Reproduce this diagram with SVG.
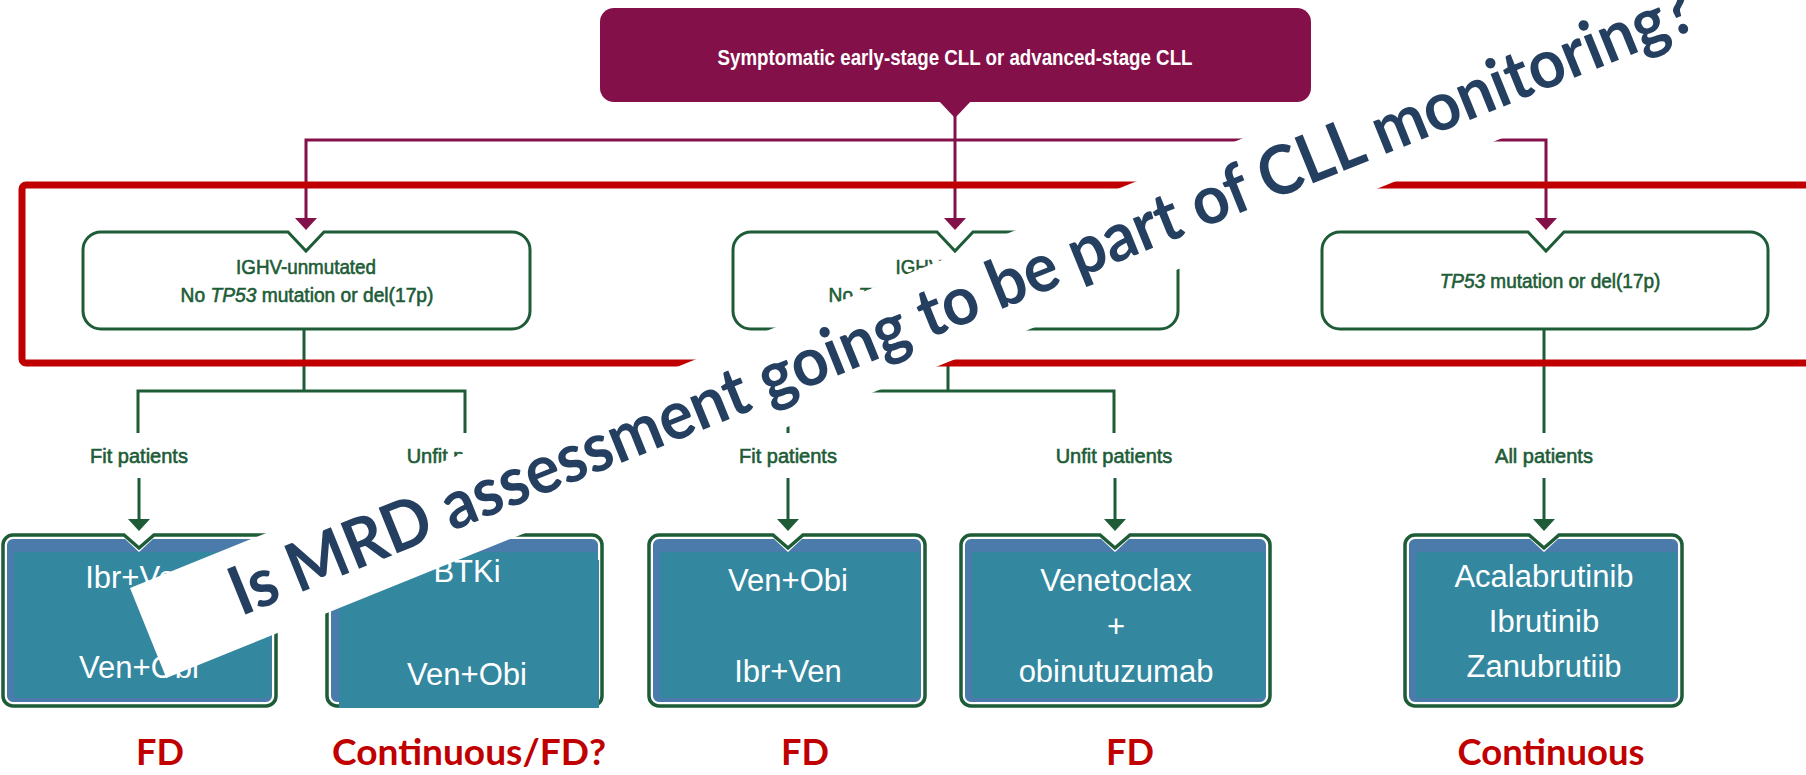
<svg xmlns="http://www.w3.org/2000/svg" width="1806" height="775" viewBox="0 0 1806 775">
<style>
.mag{fill:none;stroke:#84104A;stroke-width:3}
.magf{fill:#84104A}
.grn{fill:none;stroke:#1D5C37;stroke-width:3}
.grnf{fill:#1D5C37}
.box2{fill:#ffffff;stroke:#1D5C37;stroke-width:3}
.outer{fill:#ffffff;stroke:#1D5C37;stroke-width:3.5}
.inner{fill:#4B7BAA}
.teal{fill:#33879F}
.gt{font-family:"Liberation Sans",Arial,sans-serif;font-size:20px;fill:#1D5C37;stroke:#1D5C37;stroke-width:0.6;text-anchor:middle}
.wt{font-family:"Liberation Sans",Arial,sans-serif;font-size:31px;fill:#ffffff;text-anchor:middle}
.rt{font-family:Lato,"Liberation Sans",sans-serif;font-weight:bold;font-size:37px;fill:#C00000;text-anchor:middle}
</style>
<defs>
<path id="ahM" class="magf" d="M -11 -12 L 11 -12 L 0 0 Z"/>
<path id="ahG" class="grnf" d="M -11 -12 L 11 -12 L 0 0 Z"/>
</defs>

<g id="connectors">
<path class="mag" d="M 306 219 V 140 H 1546 V 219"/>
<path class="mag" d="M 955 110 V 219"/>
<use href="#ahM" x="306" y="230"/>
<use href="#ahM" x="955" y="230"/>
<use href="#ahM" x="1546" y="230"/>
<path class="grn" d="M 304 329 V 391"/>
<path class="grn" d="M 138 433 V 391 H 465 V 433"/>
<path class="grn" d="M 139 478 V 520"/>
<path class="grn" d="M 465 478 V 520"/>
<path class="grn" d="M 948 329 V 391"/>
<path class="grn" d="M 788 433 V 391 H 1114 V 433"/>
<path class="grn" d="M 788 478 V 520"/>
<path class="grn" d="M 1115 478 V 520"/>
<path class="grn" d="M 1544 329 V 433"/>
<path class="grn" d="M 1544 478 V 520"/>
<use href="#ahG" x="139" y="531"/>
<use href="#ahG" x="465" y="531"/>
<use href="#ahG" x="788" y="531"/>
<use href="#ahG" x="1115" y="531"/>
<use href="#ahG" x="1544" y="531"/>
<text class="gt" x="139" y="463">Fit patients</text>
<text class="gt" x="465" y="463">Unfit patients</text>
<text class="gt" x="788" y="463">Fit patients</text>
<text class="gt" x="1114" y="463">Unfit patients</text>
<text class="gt" x="1544" y="463">All patients</text>
</g>

<g id="node-top">
<rect class="magf" x="600" y="8" width="711" height="94" rx="14"/>
<path class="magf" d="M 938 100 L 972 100 L 955 118 Z"/>
<text x="955" y="65" font-family="'Liberation Sans',Arial,sans-serif" font-weight="bold" font-size="22" fill="#ffffff" text-anchor="middle" textLength="475" lengthAdjust="spacingAndGlyphs">Symptomatic early-stage CLL or advanced-stage CLL</text>
</g>

<g id="node-ighv-unmutated">
<path class="box2" d="M 101,232 H 288 L 306,251 L 324,232 H 512 A 18 18 0 0 1 530,250 V 311 A 18 18 0 0 1 512,329 H 101 A 18 18 0 0 1 83,311 V 250 A 18 18 0 0 1 101,232 Z"/>
<text class="gt" transform="translate(306,274) scale(0.94,1)">IGHV-unmutated</text>
<text class="gt" transform="translate(307,302) scale(0.96,1)">No <tspan font-style="italic">TP53</tspan> mutation or del(17p)</text>
</g>

<g id="node-ighv-mutated">
<path class="box2" d="M 751,232 H 937 L 955,251 L 973,232 H 1160 A 18 18 0 0 1 1178,250 V 311 A 18 18 0 0 1 1160,329 H 751 A 18 18 0 0 1 733,311 V 250 A 18 18 0 0 1 751,232 Z"/>
<text class="gt" transform="translate(955,274) scale(0.94,1)">IGHV-mutated</text>
<text class="gt" transform="translate(955,302) scale(0.96,1)">No <tspan font-style="italic">TP53</tspan> mutation or del(17p)</text>
</g>

<g id="node-tp53">
<path class="box2" d="M 1340,232 H 1528 L 1546,251 L 1564,232 H 1750 A 18 18 0 0 1 1768,250 V 311 A 18 18 0 0 1 1750,329 H 1340 A 18 18 0 0 1 1322,311 V 250 A 18 18 0 0 1 1340,232 Z"/>
<text class="gt" transform="translate(1550,288) scale(0.95,1)"><tspan font-style="italic">TP53</tspan> mutation or del(17p)</text>
</g>

<g id="node-t1">
<path class="outer" d="M 13,535 H 124 L 139,548 L 154,535 H 266 A 10 10 0 0 1 276,545 V 696 A 10 10 0 0 1 266,706 H 13 A 10 10 0 0 1 3,696 V 545 A 10 10 0 0 1 13,535 Z"/>
<path class="inner" d="M 13,539 H 125 L 139,552 L 153,539 H 266 A 6 6 0 0 1 272,545 V 696 A 6 6 0 0 1 266,702 H 13 A 6 6 0 0 1 7,696 V 545 A 6 6 0 0 1 13,539 Z"/>
<rect class="teal" x="14" y="552" width="257" height="146" rx="3"/>
<text class="wt" x="139" y="588">Ibr+Ven</text>
<text class="wt" x="139" y="678">Ven+Obi</text>
</g>

<g id="node-t2">
<path class="outer" d="M 337,535 H 450 L 465,548 L 480,535 H 592 A 10 10 0 0 1 602,545 V 696 A 10 10 0 0 1 592,706 H 337 A 10 10 0 0 1 327,696 V 545 A 10 10 0 0 1 337,535 Z"/>
<path class="inner" d="M 337,539 H 451 L 465,552 L 479,539 H 592 A 6 6 0 0 1 598,545 V 696 A 6 6 0 0 1 592,702 H 337 A 6 6 0 0 1 331,696 V 545 A 6 6 0 0 1 337,539 Z"/>
<rect class="teal" x="339" y="552" width="258" height="146" rx="3"/>
<rect class="teal" x="339" y="560" width="260" height="148"/>
<text class="wt" x="467" y="582">BTKi</text>
<text class="wt" x="467" y="685">Ven+Obi</text>
</g>

<g id="node-t3">
<path class="outer" d="M 659,535 H 773 L 788,548 L 803,535 H 915 A 10 10 0 0 1 925,545 V 696 A 10 10 0 0 1 915,706 H 659 A 10 10 0 0 1 649,696 V 545 A 10 10 0 0 1 659,535 Z"/>
<path class="inner" d="M 659,539 H 774 L 788,552 L 802,539 H 915 A 6 6 0 0 1 921,545 V 696 A 6 6 0 0 1 915,702 H 659 A 6 6 0 0 1 653,696 V 545 A 6 6 0 0 1 659,539 Z"/>
<rect class="teal" x="660" y="552" width="260" height="146" rx="3"/>
<text class="wt" x="788" y="591">Ven+Obi</text>
<text class="wt" x="788" y="682">Ibr+Ven</text>
</g>

<g id="node-t4">
<path class="outer" d="M 971,535 H 1100 L 1115,548 L 1130,535 H 1260 A 10 10 0 0 1 1270,545 V 696 A 10 10 0 0 1 1260,706 H 971 A 10 10 0 0 1 961,696 V 545 A 10 10 0 0 1 971,535 Z"/>
<path class="inner" d="M 971,539 H 1101 L 1115,552 L 1129,539 H 1260 A 6 6 0 0 1 1266,545 V 696 A 6 6 0 0 1 1260,702 H 971 A 6 6 0 0 1 965,696 V 545 A 6 6 0 0 1 971,539 Z"/>
<rect class="teal" x="972" y="552" width="293" height="146" rx="3"/>
<text class="wt" x="1116" y="591">Venetoclax</text>
<text class="wt" x="1116" y="637">+</text>
<text class="wt" x="1116" y="682">obinutuzumab</text>
</g>

<g id="node-t5">
<path class="outer" d="M 1415,535 H 1529 L 1544,548 L 1559,535 H 1672 A 10 10 0 0 1 1682,545 V 696 A 10 10 0 0 1 1672,706 H 1415 A 10 10 0 0 1 1405,696 V 545 A 10 10 0 0 1 1415,535 Z"/>
<path class="inner" d="M 1415,539 H 1530 L 1544,552 L 1558,539 H 1672 A 6 6 0 0 1 1678,545 V 696 A 6 6 0 0 1 1672,702 H 1415 A 6 6 0 0 1 1409,696 V 545 A 6 6 0 0 1 1415,539 Z"/>
<rect class="teal" x="1416" y="552" width="261" height="146" rx="3"/>
<text class="wt" x="1544" y="587">Acalabrutinib</text>
<text class="wt" x="1544" y="632">Ibrutinib</text>
<text class="wt" x="1544" y="677">Zanubrutiib</text>
</g>

<g id="outcomes">
<text class="rt" x="160" y="765" textLength="48" lengthAdjust="spacingAndGlyphs">FD</text>
<text class="rt" x="469" y="765" textLength="274" lengthAdjust="spacingAndGlyphs">Continuous/FD?</text>
<text class="rt" x="805" y="765" textLength="48" lengthAdjust="spacingAndGlyphs">FD</text>
<text class="rt" x="1130" y="765" textLength="48" lengthAdjust="spacingAndGlyphs">FD</text>
<text class="rt" x="1551" y="765" textLength="187" lengthAdjust="spacingAndGlyphs">Continuous</text>
</g>

<g id="highlight">
<rect x="22" y="185" width="1850" height="178" rx="4" fill="none" stroke="#C00000" stroke-width="7"/>
</g>

<g id="banner" transform="translate(130,588) rotate(-22)">
<rect x="0" y="0" width="2100" height="97" fill="#ffffff"/>
<text x="92" y="68" font-family="Lato,'Liberation Sans',sans-serif" font-weight="bold" font-size="68" fill="#243F60" textLength="1574" lengthAdjust="spacingAndGlyphs">Is MRD assessment going to be part of CLL monitoring?</text>
</g>
</svg>
